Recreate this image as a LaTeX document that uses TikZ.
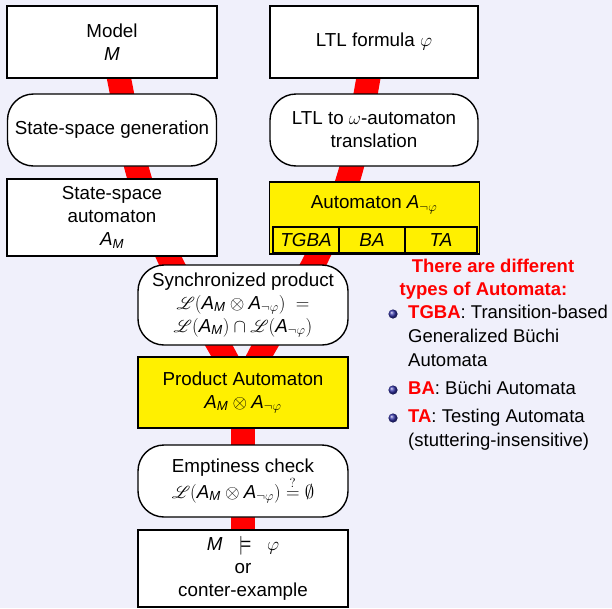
\RequirePackage{fix-cm}
\documentclass[tikz,border=0pt]{standalone}
\usepackage{amsmath}
\usepackage{mathrsfs}
\usepackage{fontspec}
\setmainfont{Liberation Sans}
\usetikzlibrary{backgrounds}

\definecolor{pagebg}{RGB}{240,240,251}
\definecolor{boxyellow}{RGB}{255,240,0}
\definecolor{ballblue}{RGB}{50,50,165}

% sans-italic automaton names
\newcommand\myAM{\text{\itshape A}_{\text{\itshape M}}}
\newcommand\myAnp{\text{\itshape A}_{\neg\varphi}}
\newcommand\myM{\text{\itshape M}}

\begin{document}
\begin{tikzpicture}[x=1pt,y=-1pt,
  every node/.style={font=\fontsize{18.8}{23}\selectfont, inner sep=0pt},
  plainbox/.style={draw, line width=1.4pt, fill=white, minimum width=210pt,
    minimum height=72pt, align=center},
  roundbox/.style={plainbox, rounded corners=26pt},
  yellowbox/.style={plainbox, fill=boxyellow},
  cellbox/.style={draw, line width=1.4pt, fill=boxyellow, minimum height=26pt,
    font=\fontsize{18.8}{23}\selectfont\itshape},
  redflow/.style={red, line width=24pt},
  alerthead/.style={anchor=base, text=red, font=\fontsize{18.5}{23}\selectfont\bfseries},
  itemtext/.style={anchor=base west, font=\fontsize{18.5}{23}\selectfont},
  ballbullet/.style={ball color=ballblue}]

\useasboundingbox (0,0) rectangle (612,608);

% left column
\node[plainbox] (model) at (112,42) {Model\\$\myM$};
\node[roundbox, minimum width=209pt] (gen) at (112,130) {State-space generation};
\node[plainbox, minimum height=77pt] (ssa) at (112,217.5) {State-space\\automaton\\$\myAM$};

% right column
\node[plainbox, minimum width=208pt] (ltl) at (374,42) {LTL formula $\varphi$};
\node[roundbox, minimum width=208pt] (trans) at (374,130) {LTL to $\omega$-automaton\\translation};
\node[yellowbox, minimum width=210pt] (auta) at (374.5,218) {};
\node (autatitle) at (374,205) {Automaton $\myAnp$};
\node[cellbox, minimum width=66pt] (tgba) at (306,240) {TGBA};
\node[cellbox, minimum width=66pt] (ba) at (372,240) {BA};
\node[cellbox, minimum width=72pt] (ta) at (441,240) {TA};

% central chain
\node[roundbox, minimum height=80pt] (sync) at (243,305)
  {Synchronized product\\$\mathscr{L}(\myAM\otimes\myAnp)\;=$\\$\mathscr{L}(\myAM)\cap\mathscr{L}(\myAnp)$};
\node[yellowbox, minimum height=71pt] (prod) at (243,392.5)
  {Product Automaton\\$\myAM\otimes\myAnp$};
\node[roundbox] (empt) at (243,481)
  {Emptiness check\\$\mathscr{L}(\myAM\otimes\myAnp)\stackrel{?}{=}\emptyset$};
\node[plainbox, minimum height=77pt] (result) at (243,568.5)
  {$\myM\;\;\models\;\;\varphi$\\or\\conter-example};

% side remarks
\node[alerthead] (hdr1) at (493,272) {There are different};
\node[alerthead] (hdr2) at (483.5,295) {types of Automata:};

\shade[ballbullet] (393,314) circle (4.6pt);
\node[itemtext] (it1a) at (408,318) {\textcolor{red}{\bfseries TGBA}: Transition-based};
\node[itemtext] (it1b) at (408,342) {Generalized Büchi};
\node[itemtext] (it1c) at (408,366) {Automata};
\shade[ballbullet] (393,390) circle (4.6pt);
\node[itemtext] (it2) at (408,394) {\textcolor{red}{\bfseries BA}: Büchi Automata};
\shade[ballbullet] (393,418) circle (4.6pt);
\node[itemtext] (it3a) at (408,422) {\textcolor{red}{\bfseries TA}: Testing Automata};
\node[itemtext] (it3b) at (408,446) {(stuttering-insensitive)};

% red flow bands behind the boxes
\begin{scope}[on background layer]
  \fill[pagebg] (0,0) rectangle (612,608);
  \coordinate (la) at (120.5,86);
  \coordinate (lb) at (138,173);
  \coordinate (lc) at (170,260);
  \coordinate (ld) at (222,351);
  \coordinate (ra) at (367,86);
  \coordinate (rb) at (350,173);
  \coordinate (rc) at (315.5,260);
  \coordinate (rd) at (262,351);
  \draw[redflow] plot[smooth, tension=0.6] coordinates
    {(model.center) (la) (lb) (lc) (ld) (prod.center)};
  \draw[redflow] plot[smooth, tension=0.6] coordinates
    {(ltl.center) (ra) (rb) (rc) (rd) (prod.center)};
  \draw[redflow] (prod.center) -- (empt.center) -- (result.center);
\end{scope}
\end{tikzpicture}
\end{document}
